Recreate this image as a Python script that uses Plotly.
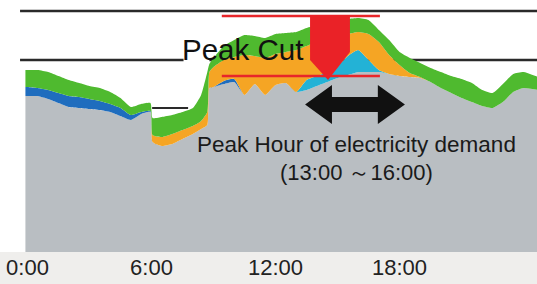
import plotly.graph_objects as go

# ---- data (hours of day, demand in arbitrary units) ----
hours = [-0.1, 0, 0.5, 1, 1.5, 2, 2.5, 3, 3.5, 4, 4.5, 5, 5.5, 5.95,
         6.05, 6.5, 7, 7.5, 8, 8.4, 8.7,
         8.8, 9, 9.5, 10, 10.5, 11, 11.5, 12, 12.5, 13,
         13.5, 14, 14.5, 15, 15.5, 16, 16.5, 17,
         17.5, 18, 18.5, 19, 19.5, 20, 20.5, 21, 21.5, 22, 22.5, 23, 23.5, 24, 24.7]

base_load = [156, 156, 156, 153, 149, 145, 144, 143, 142, 140, 136, 132, 138, 140,
             110, 106, 108, 113, 118, 123, 127,
             164, 165, 168, 170, 157, 168, 157, 167, 169, 160,
             162, 166, 170, 174, 177, 180, 180, 180,
             178, 176, 175, 174, 170, 164, 159, 154, 150, 146, 144, 150, 160, 164, 162]

blue_layer = [9, 9, 8, 9, 10, 11, 11, 10, 9, 8, 8, 5, 2, 1,
              0, 0, 0, 0, 0, 0, 0,
              0, 0, 3, 3, 0, 0, 0, 0, 0, 0,
              0, 0, 0, 0, 0, 0, 0, 0,
              0, 0, 0, 0, 0, 0, 0, 0, 0, 0, 0, 0, 0, 0, 0]

cyan_layer = [0, 0, 0, 0, 0, 0, 0, 0, 0, 0, 0, 0, 0, 0,
              0, 0, 0, 0, 0, 0, 0,
              0, 0, 0, 0, 0, 0, 0, 0, 0, 0,
              10, 10, 10, 12, 19, 22, 12, 2,
              0, 0, 0, 0, 0, 0, 0, 0, 0, 0, 0, 0, 0, 0, 0]

orange_layer = [0, 0, 0, 0, 0, 0, 0, 0, 0, 0, 0, 0, 0, 0,
                7, 9, 10, 9, 8, 8, 13,
                16, 20, 21, 22, 40, 28, 37, 31, 31, 42,
                34, 34, 32, 30, 22, 18, 26, 28,
                19, 11, 4, 1, 0, 0, 0, 0, 0, 0, 0, 0, 0, 0, 0]

green_layer = [17, 17, 18, 18, 17, 16, 14, 13, 13, 12, 10, 8, 8, 8,
               17, 20, 19, 18, 18, 26, 40,
               8, 9, 14, 17, 20, 20, 20, 20, 19, 18,
               18, 17, 18, 16, 15, 14, 14, 12,
               15, 13, 15, 14, 14, 16, 17, 19, 19, 16, 15, 18, 18, 16, 13]

tick_hours = [0, 6, 12, 18]
tick_labels = ["0:00", "6:00", "12:00", "18:00"]

# reference levels (demand units) and peak window
supply_top = 241
supply_mid = 192
night_level = 144
peak_cut_high = 236
peak_cut_low = 176
red_span = [9.4, 17.05]

FONT = "Liberation Sans, Arial, sans-serif"

fig = go.Figure()
layers = [
    ("base", base_load, "#b9bec2"),
    ("blue", blue_layer, "#1f6dbe"),
    ("cyan", cyan_layer, "#23b2d6"),
    ("orange", orange_layer, "#f5a524"),
    ("green", green_layer, "#4fba2f"),
]
for name, vals, col in layers:
    fig.add_trace(go.Scatter(
        x=hours, y=vals, name=name, stackgroup="demand", mode="lines",
        line=dict(width=0, shape="spline", smoothing=0.5),
        fillcolor=col, hoverinfo="skip", showlegend=False,
    ))

shapes = [
    dict(type="line", xref="x", yref="y", x0=-0.36, x1=24.7, y0=supply_top, y1=supply_top,
         line=dict(color="#2a2a2a", width=2.5), layer="above"),
    dict(type="line", xref="x", yref="y", x0=-0.36, x1=7.55, y0=supply_mid, y1=supply_mid,
         line=dict(color="#2a2a2a", width=2.5), layer="above"),
    dict(type="line", xref="x", yref="y", x0=8.8, x1=24.7, y0=supply_mid, y1=supply_mid,
         line=dict(color="#2a2a2a", width=2.5), layer="below"),
    dict(type="line", xref="x", yref="y", x0=6.03, x1=7.77, y0=night_level, y1=night_level,
         line=dict(color="#2a2a2a", width=2), layer="above"),
    dict(type="line", xref="x", yref="y", x0=red_span[0], x1=red_span[1], y0=peak_cut_high, y1=peak_cut_high,
         line=dict(color="#e8262a", width=2.5), layer="above"),
    dict(type="line", xref="x", yref="y", x0=red_span[0], x1=red_span[1], y0=peak_cut_low, y1=peak_cut_low,
         line=dict(color="#e8262a", width=2.5), layer="above"),
    dict(type="path", xref="x", yref="y",
         path="M 13.67,237 L 15.6,237 L 15.6,200 L 14.54,172 L 13.67,192 Z",
         fillcolor="#ea2227", line=dict(width=0), layer="above"),
    dict(type="path", xref="x", yref="y",
         path="M 13.43,147.5 L 14.73,167 L 14.73,155 L 16.95,155 L 16.95,167 L 18.26,147.5 "
              "L 16.95,128 L 16.95,140 L 14.73,140 L 14.73,128 Z",
         fillcolor="#111111", line=dict(width=0), layer="above"),
]

annotations = [
    dict(x=10.4, y=203, xref="x", yref="y", text="Peak Cut", showarrow=False,
         font=dict(family=FONT, size=29.5, color="#111111"), xanchor="center", yanchor="middle"),
    dict(x=15.9, y=108, xref="x", yref="y", text="Peak Hour of electricity demand", showarrow=False,
         font=dict(family=FONT, size=22.5, color="#1a1a1a"), xanchor="center", yanchor="middle"),
    dict(x=15.9, y=80, xref="x", yref="y", text="(13:00 ～16:00)", showarrow=False,
         font=dict(family=FONT, size=22, color="#1a1a1a"), xanchor="center", yanchor="middle"),
]

fig.update_layout(
    width=537, height=284,
    margin=dict(l=0, r=0, t=0, b=32),
    paper_bgcolor="#efeeec",
    plot_bgcolor="#ffffff",
    shapes=shapes,
    annotations=annotations,
    xaxis=dict(range=[-1.33, 24.65], tickvals=tick_hours, ticktext=tick_labels,
               showgrid=False, zeroline=False, showline=False, ticks="",
               tickfont=dict(family=FONT, size=22, color="#222222"), fixedrange=True),
    yaxis=dict(range=[0, 252], showgrid=False, zeroline=False, showline=False,
               showticklabels=False, ticks="", fixedrange=True),
    showlegend=False,
)

fig.write_html("out.html", config={"displayModeBar": False},
               post_script="document.body.style.margin='0';document.body.style.overflow='hidden';")
